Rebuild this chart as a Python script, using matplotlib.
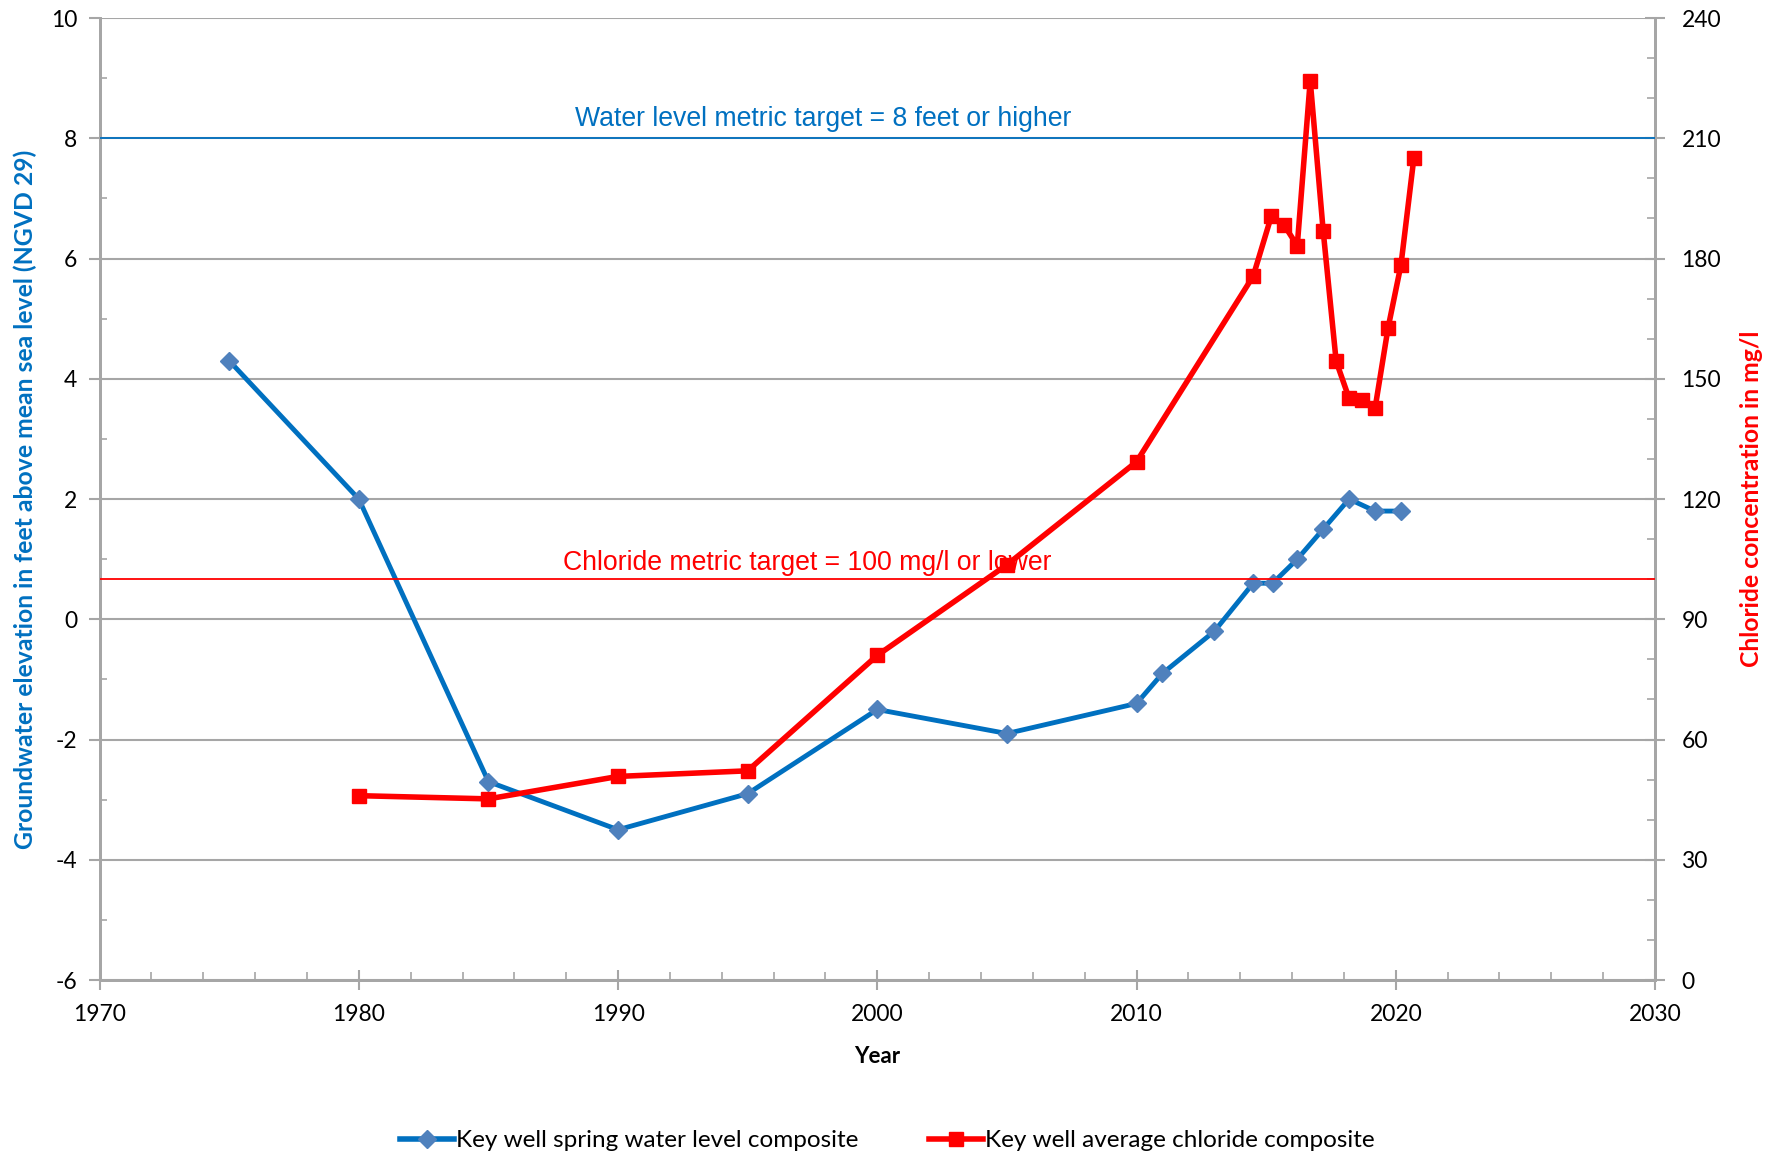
import matplotlib
matplotlib.use("Agg")
import matplotlib.pyplot as plt
import matplotlib.transforms as mtransforms
from matplotlib.ticker import MultipleLocator
from matplotlib.lines import Line2D

plt.rcParams["font.family"] = ["Lato", "DejaVu Sans"]
plt.rcParams["axes.unicode_minus"] = False

# Data
wl_years = [1975, 1980, 1985, 1990, 1995, 2000, 2005, 2010, 2011, 2013,
            2014.5, 2015.25, 2016.2, 2017.2, 2018.2, 2019.2, 2020.2]
wl_values = [4.3, 2.0, -2.7, -3.5, -2.9, -1.5, -1.9, -1.4, -0.9, -0.2,
             0.6, 0.6, 1.0, 1.5, 2.0, 1.8, 1.8]

cl_years = [1980, 1985, 1990, 1995, 2000, 2005, 2010, 2014.5, 2015.2, 2015.7,
            2016.2, 2016.7, 2017.2, 2017.7, 2018.2, 2018.7, 2019.2, 2019.7,
            2020.2, 2020.7]
cl_values = [46, 45.2, 50.8, 52.2, 81, 103.6, 129.3, 175.6, 190.6, 188.3,
             183.2, 224.4, 186.9, 154.4, 145.1, 144.8, 142.6, 162.6,
             178.4, 205.2]

wl_target = 8
cl_target = 100

wl_label = "Key well spring water level composite"
cl_label = "Key well average chloride composite"

BLUE = "#0070C0"
BLUE_M = "#4F81BD"
RED = "#FF0000"
GRAY = "#A6A6A6"

fig = plt.figure(figsize=(17.75, 11.56), dpi=100)
ax = fig.add_axes([0.0561, 0.1522, 0.8763, 0.8322])
ax2 = ax.twinx()

ax.set_xlim(1970, 2030)
ax.set_ylim(-6, 10)
ax2.set_ylim(0, 240)

ax.xaxis.set_major_locator(MultipleLocator(10))
ax.xaxis.set_minor_locator(MultipleLocator(2))
ax.yaxis.set_major_locator(MultipleLocator(2))
ax.yaxis.set_minor_locator(MultipleLocator(1))
ax2.yaxis.set_major_locator(MultipleLocator(30))
ax2.yaxis.set_minor_locator(MultipleLocator(10))

ax.grid(axis="y", which="major", color=GRAY, linewidth=1.5)
ax.set_axisbelow(True)

for a in (ax, ax2):
    for s in a.spines.values():
        s.set_color(GRAY)
        s.set_linewidth(2)
    a.spines["top"].set_visible(False)

ax.tick_params(axis="y", which="major", direction="out", length=8, width=1.5, color=GRAY,
               labelsize=16.5, pad=8)
ax.tick_params(axis="y", which="minor", direction="in", length=5, width=1.2, color=GRAY)
ax.tick_params(axis="x", which="major", direction="inout", length=14, width=1.5, color=GRAY,
               labelsize=16.5, pad=10)
ax.tick_params(axis="x", which="minor", direction="in", length=6, width=1.2, color=GRAY)
ax2.tick_params(axis="y", which="major", direction="inout", length=14, width=1.5, color=GRAY,
                labelsize=16.5, pad=12)
ax2.tick_params(axis="y", which="minor", direction="in", length=6, width=1.2, color=GRAY)

# Target lines (drawn on the top axes so they lie over the tick marks)
blend = mtransforms.blended_transform_factory(ax2.transAxes, ax.transData)
ax2.plot([0, 1], [wl_target, wl_target], transform=blend, color=BLUE, linewidth=1.3,
         zorder=2.6)
ax2.axhline(cl_target, color=RED, linewidth=1.3, zorder=2.6)

ax.text(1997.9, 8.32, "Water level metric target = 8 feet or higher", color=BLUE,
        fontsize=19.2, ha="center", va="center", fontfamily="Liberation Sans")
ax.text(1997.3, 0.94, "Chloride metric target = 100 mg/l or lower", color=RED,
        fontsize=19.2, ha="center", va="center", fontfamily="Liberation Sans")

# Series
ax.plot(wl_years, wl_values, color=BLUE, linewidth=3.5, marker="D", markersize=9,
        markerfacecolor=BLUE_M, markeredgecolor=BLUE_M, zorder=3)
ax2.plot(cl_years, cl_values, color=RED, linewidth=4, marker="s", markersize=10,
         markerfacecolor=RED, markeredgecolor=RED, zorder=3)

ax.set_xlabel("Year", fontsize=16, fontweight="bold", labelpad=15)
ax.set_ylabel("Groundwater elevation in feet above mean sea level (NGVD 29)", color=BLUE,
              fontsize=17.8, fontweight="bold", labelpad=10)
ax2.set_ylabel("Chloride concentration in mg/l", color=RED, fontsize=17.8,
               fontweight="bold", labelpad=14)

handles = [
    Line2D([], [], color=BLUE, linewidth=4, marker="D", markersize=9,
           markerfacecolor=BLUE_M, markeredgecolor=BLUE_M),
    Line2D([], [], color=RED, linewidth=4, marker="s", markersize=10,
           markerfacecolor=RED, markeredgecolor=RED),
]
fig.legend(handles, [wl_label, cl_label], loc="center", bbox_to_anchor=(0.5, 0.013),
           ncol=2, frameon=False, prop={"size": 17.5},
           handlelength=2.2, handletextpad=0.1, columnspacing=2.9)

fig.savefig("out.png", dpi=100)
